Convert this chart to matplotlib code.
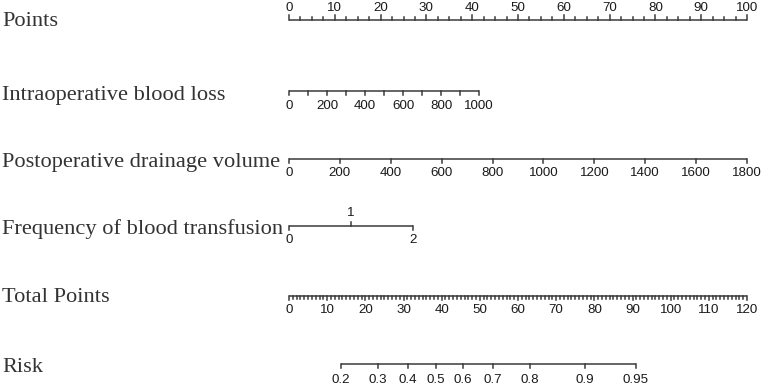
import matplotlib
matplotlib.use("Agg")
import matplotlib.pyplot as plt
import numpy as np

# ---- data ----
row_names = ["Points", "Intraoperative blood loss", "Postoperative drainage volume",
             "Frequency of blood transfusion", "Total Points", "Risk"]

points_labels = [0, 10, 20, 30, 40, 50, 60, 70, 80, 90, 100]
points_minor_step = 2.5

blood_loss_ticks = [0, 100, 200, 300, 400, 500, 600, 700, 800, 900, 1000]
blood_loss_labels = [0, 200, 400, 600, 800, 1000]
blood_loss_max_value = 1000
blood_loss_max_points = 41.5

drainage_ticks = [0, 200, 400, 600, 800, 1000, 1200, 1400, 1600, 1800]
drainage_max_value = 1800
drainage_max_points = 100

transfusion_values = [0, 1, 2]
transfusion_points = [0, 13.5, 27.0]

total_labels = [0, 10, 20, 30, 40, 50, 60, 70, 80, 90, 100, 110, 120]
total_max = 120

risk_labels = ["0.2", "0.3", "0.4", "0.5", "0.6", "0.7", "0.8", "0.9", "0.95"]
risk_total_points = [13.6, 23.3, 31.2, 38.5, 45.6, 53.4, 63.1, 77.5, 90.9]

# ---- layout ----
W, H = 765, 389
fig = plt.figure(figsize=(W / 100, H / 100), dpi=100)
x0_px, x1_px = 289, 747
ax = fig.add_axes([x0_px / W, 0, (x1_px - x0_px) / W, 1])
ax.set_xlim(0, 100)
ax.set_ylim(H, 0)
ax.axis("off")

px = 100 / (x1_px - x0_px)  # data units per pixel in x
LC = "#3a3a3a"
TC = "#1a1a1a"
LW = 1.1
label_font = dict(family="Liberation Serif", size=16.1, color="#333333")
tick_font = dict(family="Liberation Sans", size=9.6, color=TC)

row_y = [20, 91, 159, 226, 296, 364]
label_y = [21, 95, 162, 229, 298, 367]

for name, y in zip(row_names, label_y):
    ax.text(-287 * px, y, name, ha="left", va="center", clip_on=False, **label_font)


def hline(xa, xb, y):
    ax.plot([xa, xb], [y, y], color=LC, lw=LW, solid_capstyle="butt", clip_on=False)


def tick(x, y, length):
    ax.plot([x, x], [y, y + length], color=LC, lw=LW, clip_on=False)


# Points row (ticks up, labels above)
y = row_y[0]
hline(0, 100, y)
for v in np.arange(0, 100 + 1e-9, points_minor_step):
    major = abs(v / 10 - round(v / 10)) < 1e-9
    tick(v, y, -5 if major else -3)
for v in points_labels:
    ax.text(v, y - 12, str(v), ha="center", va="center", **tick_font)

# Intraoperative blood loss (ticks down, labels below)
y = row_y[1]
scale = blood_loss_max_points / blood_loss_max_value
hline(0, blood_loss_max_value * scale, y)
for v in blood_loss_ticks:
    tick(v * scale, y, 4)
for v in blood_loss_labels:
    ax.text(v * scale, y + 15, str(v), ha="center", va="center", **tick_font)

# Postoperative drainage volume
y = row_y[2]
scale = drainage_max_points / drainage_max_value
hline(0, drainage_max_value * scale, y)
for v in drainage_ticks:
    tick(v * scale, y, 4)
    ax.text(v * scale, y + 14, str(v), ha="center", va="center", **tick_font)

# Frequency of blood transfusion
y = row_y[3]
hline(transfusion_points[0], transfusion_points[-1], y)
for i, (v, p) in enumerate(zip(transfusion_values, transfusion_points)):
    if i % 2 == 1:
        tick(p, y, -4)
        ax.text(p, y - 13, str(v), ha="center", va="center", **tick_font)
    else:
        tick(p, y, 4)
        ax.text(p, y + 14, str(v), ha="center", va="center", **tick_font)

# Total Points
y = row_y[4]
scale = 100 / total_max
hline(0, total_max * scale, y)
for v in range(0, total_max + 1):
    tick(v * scale, y, 4 if v % 10 == 0 else 3)
for v in total_labels:
    ax.text(v * scale, y + 14, str(v), ha="center", va="center", **tick_font)

# Risk
y = row_y[5]
hline(risk_total_points[0] * scale, risk_total_points[-1] * scale, y)
for lab, tp in zip(risk_labels, risk_total_points):
    tick(tp * scale, y, 4)
    ax.text(tp * scale, y + 16, lab, ha="center", va="center", **tick_font)

fig.savefig("out.png", dpi=100, facecolor="white")
